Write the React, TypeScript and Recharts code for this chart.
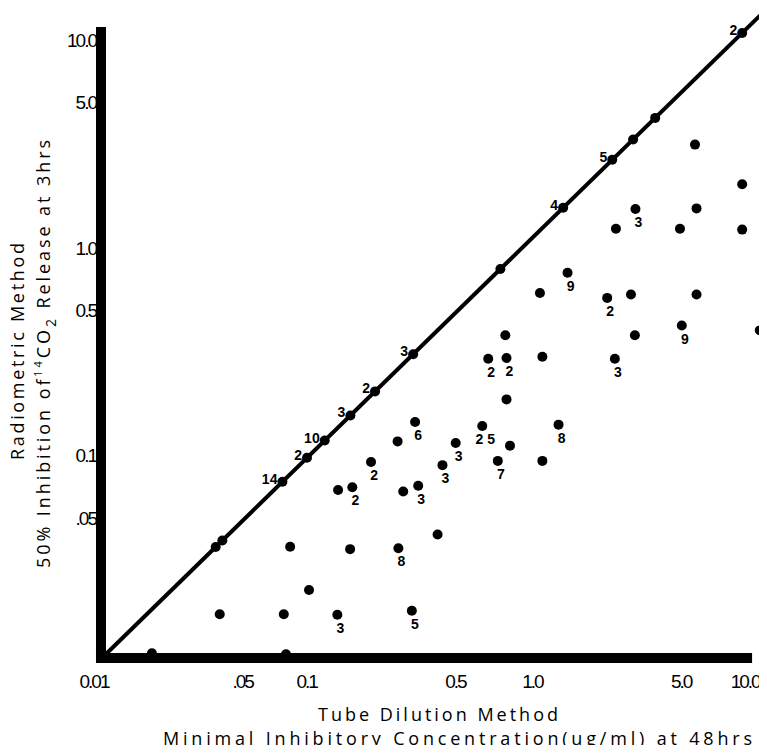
import React from 'react';
import { ScatterChart, Scatter, XAxis, YAxis, ReferenceLine } from 'recharts';

// axis ticks
const X_TICKS = [0.01, 0.05, 0.1, 0.5, 1, 5, 10];
const X_TICK_LABELS = ['0.01', '.05', '0.1', '0.5', '1.0', '5.0', '10.0'];
const Y_TICKS = [0.05, 0.1, 0.5, 1, 5, 10];
const Y_TICK_LABELS = ['.05', '0.1', '0.5', '1.0', '5.0', '10.0'];

// strains where both methods agree (on the line of identity)
const AGREE_MIC = [10, 3.9, 3.07, 2.45, 1.44, 0.73, 0.284, 0.188, 0.144, 0.109, 0.09, 0.069, 0.036, 0.0335];
const AGREE_COUNT = ['2', '', '', '5', '4', '', '3', '2', '3', '10', '2', '14', '', ''];

// other strains: tube dilution MIC vs radiometric 50% inhibition
const MIC = [
  6.0, 10.0, 3.15, 6.1, 2.55, 5.1, 10.0, 1.51, 1.12, 2.32, 3.0, 6.1, 5.2, 12.1, 3.13, 0.77,
  0.64, 0.78, 1.15, 2.52, 0.78, 0.29, 0.6, 1.37, 0.24, 0.45, 0.81, 0.18, 0.39, 0.71, 1.15,
  0.126, 0.147, 0.255, 0.3, 0.37, 0.075, 0.1435, 0.242, 0.092, 0.035, 0.07, 0.125, 0.28, 0.0168, 0.0717,
];
const RADIO = [
  2.9, 1.87, 1.42, 1.43, 1.14, 1.14, 1.13, 0.7, 0.56, 0.53, 0.55, 0.55, 0.39, 0.37, 0.35, 0.35,
  0.27, 0.272, 0.276, 0.27, 0.172, 0.134, 0.128, 0.13, 0.108, 0.106, 0.103, 0.086, 0.083, 0.087, 0.087,
  0.063, 0.065, 0.062, 0.066, 0.0385, 0.0336, 0.0327, 0.033, 0.0208, 0.0159, 0.0159, 0.0158, 0.0165, 0.0103, 0.0102,
];
const COUNT = [
  '', '', '3', '', '', '', '', '9', '', '2', '', '', '9', '', '', '',
  '2', '2', '', '3', '', '6', '2 5', '8', '', '3', '', '2', '3', '7', '',
  '', '2', '', '3', '', '', '', '8', '', '', '', '3', '5', '', '',
];

const IDENTITY = [0.01, 12.8];

const agreeData = AGREE_MIC.map((v, i) => ({ x: v, y: v, label: AGREE_COUNT[i] }));
const otherData = MIC.map((v, i) => ({ x: v, y: RADIO[i], label: COUNT[i] }));
const lineData = IDENTITY.map((v) => ({ x: v, y: v }));

const NUM_FONT = '"Liberation Sans", Arial, sans-serif';
const TITLE_FONT = '"Open Sans", "Noto Sans", sans-serif';

const AgreeDot = (props: any) => {
  const { cx, cy, payload } = props;
  return (
    <g>
      <circle cx={cx} cy={cy} r={5} fill="#000" />
      {payload.label ? (
        <text x={cx - 5} y={cy + 2} textAnchor="end" fontFamily={NUM_FONT} fontWeight="bold" fontSize={14} fill="#000">
          {payload.label}
        </text>
      ) : null}
    </g>
  );
};

const OtherDot = (props: any) => {
  const { cx, cy, payload } = props;
  return (
    <g>
      <circle cx={cx} cy={cy} r={5} fill="#000" />
      {payload.label ? (
        <text x={cx + 3} y={cy + 18} textAnchor="middle" fontFamily={NUM_FONT} fontWeight="bold" fontSize={14} fill="#000">
          {payload.label}
        </text>
      ) : null}
    </g>
  );
};

const XTick = (props: any) => {
  const { x, y, payload } = props;
  const i = X_TICKS.indexOf(payload.value);
  return (
    <text x={x + (payload.value < 1 ? -10 : 3)} y={y + 32} textAnchor="middle" fontFamily={NUM_FONT} fontSize={19} letterSpacing={-2} fill="#000">
      {X_TICK_LABELS[i]}
    </text>
  );
};

const YTick = (props: any) => {
  const { x, y, payload } = props;
  const i = Y_TICKS.indexOf(payload.value);
  return (
    <text x={x - 8} y={y + 14} textAnchor="end" fontFamily={NUM_FONT} fontSize={19} letterSpacing={-2} fill="#000">
      {Y_TICK_LABELS[i]}
    </text>
  );
};

const XTitle = () => (
  <g fontFamily={TITLE_FONT} fontSize={18} fill="#000">
    <text x={318} y={721} textLength={240} lengthAdjust="spacing">Tube Dilution Method</text>
    <text x={163} y={745} textLength={589} lengthAdjust="spacing">Minimal Inhibitory Concentration(ug/ml) at 48hrs</text>
  </g>
);

const YTitle = () => (
  <g fontFamily={TITLE_FONT} fontSize={18} fill="#000">
    <text transform="translate(24,460) rotate(-90)" textLength={217} lengthAdjust="spacing">Radiometric Method</text>
    <text transform="translate(50,568) rotate(-90)" textLength={428} lengthAdjust="spacing">
      50% Inhibition of
      <tspan fontSize={11} dy={-8}>14</tspan>
      <tspan dy={8}>CO</tspan>
      <tspan fontSize={14} dy={6}>2</tspan>
      <tspan dy={-6}> Release at 3hrs</tspan>
    </text>
  </g>
);

export default function App() {
  return (
    <div style={{ margin: -8, width: 767, height: 753, background: '#fff' }}>
      <ScatterChart width={767} height={753} margin={{ top: 10, right: 2, left: 0, bottom: 0 }}>
        <XAxis
          type="number"
          dataKey="x"
          scale="log"
          domain={[0.01, 12.8]}
          ticks={X_TICKS}
          interval={0}
          height={97}
          axisLine={false}
          tickLine={false}
          tickSize={0}
          tickMargin={0}
          tick={<XTick />}
          label={{ content: XTitle }}
        />
        <YAxis
          type="number"
          dataKey="y"
          scale="log"
          domain={[0.01, 12.9]}
          ticks={Y_TICKS}
          interval={0}
          width={104}
          axisLine={false}
          tickLine={false}
          tickSize={0}
          tickMargin={0}
          tick={<YTick />}
          label={{ content: YTitle }}
        />
        <ReferenceLine
          segment={[{ x: 0.00917, y: 0.00978 }, { x: 11.13, y: 0.00978 }]}
          stroke="#000"
          strokeWidth={10}
          ifOverflow="visible"
        />
        <ReferenceLine
          segment={[{ x: 0.00968, y: 0.00925 }, { x: 0.00968, y: 10.68 }]}
          stroke="#000"
          strokeWidth={10}
          ifOverflow="visible"
        />
        <Scatter
          data={lineData}
          line={{ stroke: '#000', strokeWidth: 4 }}
          shape={() => <g />}
          isAnimationActive={false}
        />
        <Scatter data={agreeData} shape={AgreeDot} isAnimationActive={false} />
        <Scatter data={otherData} shape={OtherDot} isAnimationActive={false} />
      </ScatterChart>
    </div>
  );
}
